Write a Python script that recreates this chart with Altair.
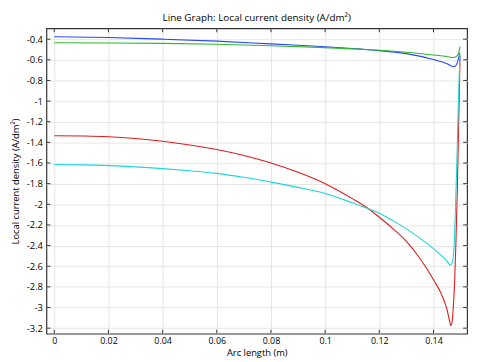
import altair as alt
import pandas as pd

# Arc length (m) sample positions and series values (A/dm^2)
blue_x = [0, 0.02, 0.04, 0.06, 0.08, 0.10, 0.11, 0.12, 0.13, 0.14, 0.145, 0.1475, 0.1485, 0.1492, 0.1497]
blue_y = [-0.377, -0.384, -0.400, -0.419, -0.446, -0.473, -0.490, -0.511, -0.540, -0.598, -0.638, -0.667, -0.645, -0.590, -0.530]

green_x = [0, 0.02, 0.04, 0.06, 0.08, 0.10, 0.11, 0.12, 0.13, 0.14, 0.145, 0.1475, 0.1488, 0.1494, 0.1498]
green_y = [-0.435, -0.437, -0.441, -0.450, -0.463, -0.482, -0.494, -0.508, -0.527, -0.553, -0.568, -0.578, -0.560, -0.520, -0.470]

red_x = [0, 0.01, 0.02, 0.03, 0.04, 0.05, 0.06, 0.07, 0.08, 0.09, 0.10, 0.11, 0.1161, 0.12, 0.125, 0.13, 0.135, 0.14, 0.143, 0.145, 0.146, 0.1464, 0.1468, 0.1473, 0.1478, 0.1483, 0.1488, 0.1492, 0.1495, 0.1498]
red_y = [-1.335, -1.338, -1.345, -1.362, -1.389, -1.425, -1.469, -1.527, -1.600, -1.690, -1.800, -1.945, -2.045, -2.125, -2.235, -2.360, -2.525, -2.730, -2.875, -3.020, -3.140, -3.175, -3.150, -3.000, -2.750, -2.350, -1.850, -1.350, -0.950, -0.560]

cyan_x = [0, 0.01, 0.02, 0.03, 0.04, 0.05, 0.06, 0.07, 0.08, 0.09, 0.10, 0.11, 0.1161, 0.12, 0.125, 0.13, 0.135, 0.14, 0.143, 0.145, 0.1462, 0.147, 0.1476, 0.1481, 0.1486, 0.1491, 0.1495, 0.1498]
cyan_y = [-1.615, -1.618, -1.625, -1.637, -1.654, -1.675, -1.700, -1.738, -1.785, -1.836, -1.895, -1.985, -2.045, -2.086, -2.158, -2.238, -2.328, -2.430, -2.500, -2.550, -2.590, -2.560, -2.400, -2.050, -1.600, -1.100, -0.750, -0.550]

series_names = ["blue", "green", "red", "cyan"]
series_colors = ["#2846f5", "#2eb82e", "#e01b1b", "#1fd6d6"]

x_ticks = [0, 0.02, 0.04, 0.06, 0.08, 0.10, 0.12, 0.14]
y_ticks = [-0.4, -0.6, -0.8, -1.0, -1.2, -1.4, -1.6, -1.8, -2.0, -2.2, -2.4, -2.6, -2.8, -3.0, -3.2]

rows = []
for name, xs, ys in [("blue", blue_x, blue_y), ("green", green_x, green_y),
                     ("red", red_x, red_y), ("cyan", cyan_x, cyan_y)]:
    for i, (a, b) in enumerate(zip(xs, ys)):
        rows.append({"series": name, "x": a, "y": b, "i": i})
df = pd.DataFrame(rows)

W, H = 427, 310
xdom = [-0.0029, 0.1524]
ydom = [-3.254, -0.295]
font = "Open Sans"

xs_scale = alt.Scale(domain=xdom, nice=False, zero=False)
ys_scale = alt.Scale(domain=ydom, nice=False, zero=False)

x_axis = alt.Axis(values=x_ticks, title="Arc length (m)", grid=True,
                  gridColor="#e6e6e6", ticks=False, labelPadding=3,
                  labelFontSize=9,
                  labelExpr="'' + datum.value", domain=False,
                  labelOverlap=False, titlePadding=2)
y_axis = alt.Axis(values=y_ticks, title="Local current density (A/dm²)", grid=True,
                  gridColor="#e6e6e6", ticks=False, labelPadding=4,
                  labelExpr="'' + datum.value", domain=False,
                  labelOverlap=False, titlePadding=6)

lines = alt.Chart(df).mark_line(strokeWidth=1.1, clip=True, interpolate="monotone").encode(
    x=alt.X("x:Q", scale=xs_scale, axis=x_axis),
    y=alt.Y("y:Q", scale=ys_scale, axis=y_axis),
    color=alt.Color("series:N", scale=alt.Scale(domain=series_names, range=series_colors), legend=None),
    order="i:Q",
)

xt = pd.DataFrame({"x": x_ticks})
yt = pd.DataFrame({"y": y_ticks})

tick_len = 4
xtick_bottom = alt.Chart(xt).mark_rule(color="#333333", strokeWidth=1).encode(
    x=alt.X("x:Q", scale=xs_scale, axis=x_axis), y=alt.value(H - tick_len), y2=alt.value(H))
xtick_top = alt.Chart(xt).mark_rule(color="#333333", strokeWidth=1).encode(
    x=alt.X("x:Q", scale=xs_scale, axis=x_axis), y=alt.value(0), y2=alt.value(tick_len))
ytick_left = alt.Chart(yt).mark_rule(color="#333333", strokeWidth=1).encode(
    y=alt.Y("y:Q", scale=ys_scale, axis=y_axis), x=alt.value(0), x2=alt.value(tick_len))
ytick_right = alt.Chart(yt).mark_rule(color="#333333", strokeWidth=1).encode(
    y=alt.Y("y:Q", scale=ys_scale, axis=y_axis), x=alt.value(W - tick_len), x2=alt.value(W))

chart = alt.layer(lines, xtick_bottom, xtick_top, ytick_left, ytick_right).properties(
    width=W, height=H,
    title=alt.TitleParams("Line Graph: Local current density (A/dm²)", fontSize=10,
                          fontWeight="normal", font=font, color="#000000", offset=5),
    autosize=alt.AutoSizeParams(type="none"),
    padding={"left": 39, "top": 18, "right": 6, "bottom": 22},
).configure_view(
    stroke="#333333", strokeWidth=1.2
).configure_axis(
    labelFont=font, labelFontSize=9.5, labelColor="#000000",
    titleFont=font, titleFontSize=9.5, titleFontWeight="normal", titleColor="#000000",
)

chart.save("out.html", embed_options={"renderer": "svg", "actions": False})
